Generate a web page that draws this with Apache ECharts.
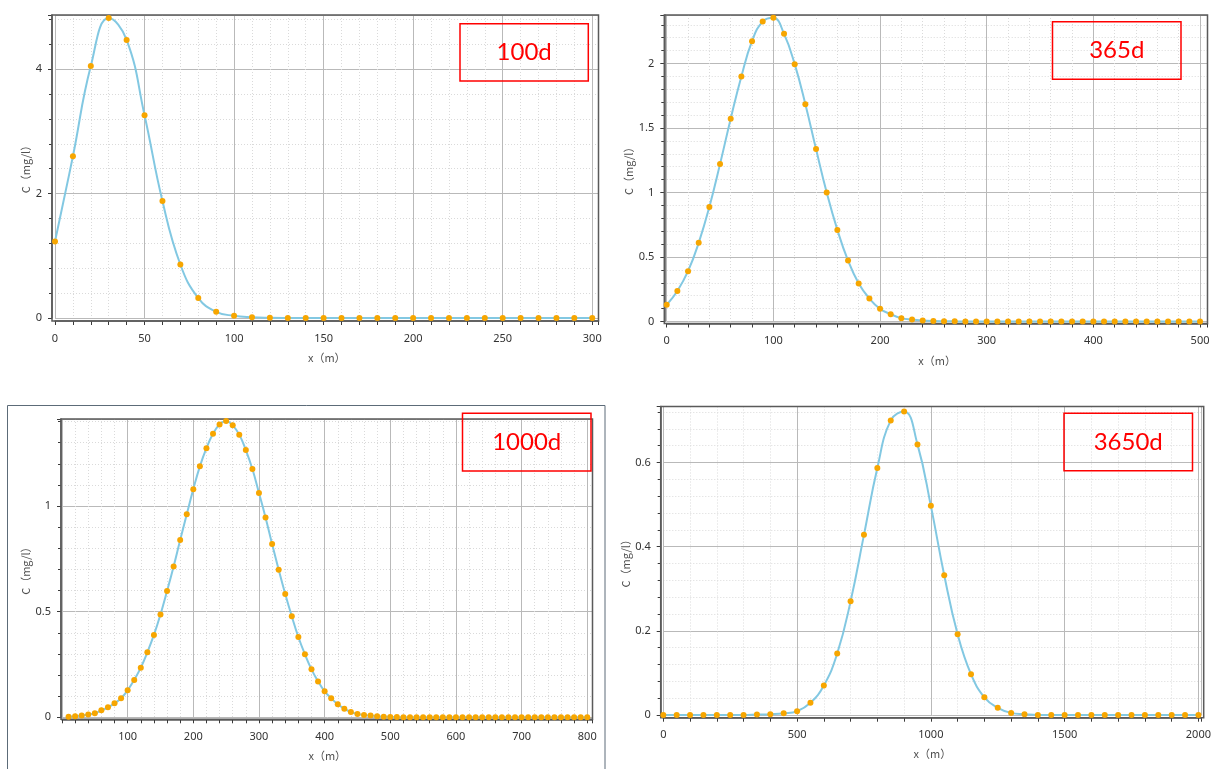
<!DOCTYPE html>
<html>
<head>
<meta charset="utf-8">
<script src="https://cdn.jsdelivr.net/npm/echarts@6/dist/echarts.min.js"></script>
<style>html,body{margin:0;padding:0;background:#fff;}#c{width:1214px;height:769px;}</style>
</head>
<body>
<div id="c"></div>
<script>
// ---------- DATA ----------
const panelTitles = ['100d', '365d', '1000d', '3650d'];
const xAxisName = 'x（m）';
const yAxisName = 'C（mg/l）';

const x100d = [0,10,20,30,40,50,60,70,80,90,100,110,120,130,140,150,160,170,180,190,200,210,220,230,240,250,260,270,280,290,300];
const c100d = [1.23,2.60,4.05,4.82,4.47,3.26,1.88,0.86,0.32,0.10,0.035,0.012,0.004,0.001,0,0,0,0,0,0,0,0,0,0,0,0,0,0,0,0,0];

const x365d = [0,10,20,30,40,50,60,70,80,90,100,110,120,130,140,150,160,170,180,190,200,210,220,230,240,250,260,270,280,290,300,310,320,330,340,350,360,370,380,390,400,410,420,430,440,450,460,470,480,490,500];
const c365d = [0.13,0.237,0.39,0.61,0.888,1.22,1.572,1.90,2.173,2.325,2.354,2.23,1.995,1.685,1.337,1.0,0.71,0.472,0.294,0.178,0.098,0.057,0.026,0.015,0.008,0.004,0.002,0.001,0,0,0,0,0,0,0,0,0,0,0,0,0,0,0,0,0,0,0,0,0,0,0];

const x1000d = [10,20,30,40,50,60,70,80,90,100,110,120,130,140,150,160,170,180,190,200,210,220,230,240,250,260,270,280,290,300,310,320,330,340,350,360,370,380,390,400,410,420,430,440,450,460,470,480,490,500,510,520,530,540,550,560,570,580,590,600,610,620,630,640,650,660,670,680,690,700,710,720,730,740,750,760,770,780,790,800];
const c1000d = [0.003,0.005,0.008,0.013,0.019,0.033,0.047,0.066,0.09,0.128,0.177,0.235,0.308,0.39,0.487,0.598,0.714,0.839,0.961,1.08,1.188,1.274,1.342,1.386,1.402,1.382,1.338,1.265,1.175,1.062,0.946,0.82,0.699,0.584,0.478,0.38,0.298,0.227,0.17,0.123,0.09,0.062,0.041,0.025,0.016,0.011,0.008,0.005,0.003,0.002,0.001,0,0,0,0,0,0,0,0,0,0,0,0,0,0,0,0,0,0,0,0,0,0,0,0,0,0,0,0,0];

const x3650d = [0,50,100,150,200,250,300,350,400,450,500,550,600,650,700,750,800,850,900,950,1000,1050,1100,1150,1200,1250,1300,1350,1400,1450,1500,1550,1600,1650,1700,1750,1800,1850,1900,1950,2000];
const c3650d = [0,0,0,0,0,0,0,0.001,0.002,0.004,0.009,0.029,0.07,0.146,0.27,0.428,0.587,0.70,0.721,0.643,0.497,0.332,0.192,0.097,0.042,0.017,0.005,0.002,0,0,0,0,0,0,0,0,0,0,0,0,0];

// ---------- LAYOUT ----------
const W = 1214, H = 769;
const panels = [
  { title: panelTitles[0], xs: x100d, ys: c100d, xMax: 303.5, xInt: 50, yMax: 4.87, yInt: 2,
    L: 55, T: 15, R: 598.5, B: 318, xOff: 3, yOff: 3, xGap: 31, yGap: 20,
    box: [460, 23.7, 588.3, 81] },
  { title: panelTitles[1], xs: x365d, ys: c365d, xMax: 507, xInt: 100, yMax: 2.376, yInt: 0.5,
    L: 666.7, T: 15, R: 1207.5, B: 321.5, xOff: 2, yOff: 2.4, xGap: 32, yGap: 30,
    box: [1052.5, 21.7, 1181, 79.3] },
  { title: panelTitles[2], xs: x1000d, ys: c1000d, xMax: 808, xInt: 100, yMax: 1.412, yInt: 0.5,
    L: 62, T: 419, R: 592.5, B: 717.3, xOff: 2, yOff: 1, xGap: 31, yGap: 26,
    box: [462.5, 413.3, 591, 471], hideMin: true },
  { title: panelTitles[3], xs: x3650d, ys: c3650d, xMax: 2011, xInt: 500, yMax: 0.733, yInt: 0.2,
    L: 663.3, T: 406.5, R: 1203.7, B: 715, xOff: 2.7, yOff: 2.6, xGap: 31, yGap: 29,
    box: [1064, 413.3, 1192.5, 470.7] }
];

const FONT = 'Noto Sans';
const axisColor = '#3a3a3a';
const borderColor = '#5a5a5a';

function fmt(interval, hideMin) {
  return function (v) {
    const r = v / interval;
    if (Math.abs(r - Math.round(r)) > 1e-6) return '';
    if (hideMin && v === 0) return '';
    return String(+v.toFixed(6));
  };
}

const grids = [], xAxes = [], yAxes = [], series = [], graphics = [];

// frame around lower-left picture
graphics.push({ type: 'rect', silent: true, z: 1,
  shape: { x: 7.5, y: 405.5, width: 597.5, height: 400 },
  style: { fill: null, stroke: '#5c6b78', lineWidth: 1 } });

panels.forEach((p, i) => {
  grids.push({ left: p.L, top: p.T, right: W - p.R, bottom: H - p.B, containLabel: false, show: false });
  xAxes.push({
    type: 'value', gridIndex: i, min: 0, max: p.xMax, interval: p.xInt,
    offset: p.xOff,
    name: xAxisName, nameLocation: 'middle', nameGap: p.xGap,
    nameTextStyle: { fontFamily: 'Noto Sans CJK SC', fontSize: 11, color: '#505050' },
    axisLine: { show: true, onZero: false, lineStyle: { color: borderColor, width: 1.5 } },
    axisTick: { show: true, length: 4, lineStyle: { color: axisColor } },
    minorTick: { show: true, splitNumber: 5, length: 4, lineStyle: { color: axisColor } },
    axisLabel: { fontFamily: FONT, fontSize: 11, color: '#333', margin: 12, formatter: fmt(p.xInt, p.hideMin) },
    splitLine: { show: true, lineStyle: { color: '#b9b9b9', width: 1 } },
    minorSplitLine: { show: true, lineStyle: { color: '#dadada', width: 1, type: [1, 2] } }
  });
  yAxes.push({
    type: 'value', gridIndex: i, min: 0, max: p.yMax, interval: p.yInt,
    offset: p.yOff,
    name: yAxisName, nameLocation: 'middle', nameGap: p.yGap,
    nameTextStyle: { fontFamily: 'Noto Sans CJK SC', fontSize: 11, color: '#505050' },
    axisLine: { show: true, onZero: false, lineStyle: { color: borderColor, width: 1.5 } },
    axisTick: { show: true, length: 4, lineStyle: { color: axisColor } },
    minorTick: { show: true, splitNumber: 5, length: 3, lineStyle: { color: axisColor } },
    axisLabel: { fontFamily: FONT, fontSize: 11, color: '#333', margin: 10, formatter: fmt(p.yInt, false) },
    splitLine: { show: true, lineStyle: { color: '#b9b9b9', width: 1 } },
    minorSplitLine: { show: true, lineStyle: { color: '#dadada', width: 1, type: [1, 2] } }
  });
  series.push({
    type: 'line', xAxisIndex: i, yAxisIndex: i, clip: false,
    data: p.xs.map((x, k) => [x, p.ys[k]]),
    smooth: 0.45,
    symbol: 'circle', symbolSize: 6, showSymbol: true,
    lineStyle: { color: '#82c8e2', width: 2 },
    itemStyle: { color: '#f7a600' },
    emphasis: { disabled: true }, animation: false, z: 3
  });
  // plot border box
  const bx = p.L - p.yOff, by = p.T, bw = p.R - bx, bh = (p.B + p.xOff) - p.T;
  graphics.push({ type: 'rect', silent: true, z: 2,
    shape: { x: bx, y: by, width: bw, height: bh },
    style: { fill: null, stroke: borderColor, lineWidth: 1.5 } });
  // red label box
  const b = p.box;
  graphics.push({ type: 'rect', silent: true, z: 10,
    shape: { x: b[0], y: b[1], width: b[2] - b[0], height: b[3] - b[1] },
    style: { fill: null, stroke: '#ff0000', lineWidth: 1.5 } });
  graphics.push({ type: 'text', silent: true, z: 11,
    x: (b[0] + b[2]) / 2, y: (b[1] + b[3]) / 2,
    style: { text: p.title, fill: '#ff0000', font: '24px Lato', textAlign: 'center', textVerticalAlign: 'middle' } });
});

const chart = echarts.init(document.getElementById('c'), null, { renderer: 'canvas' });
chart.setOption({
  animation: false,
  backgroundColor: '#ffffff',
  grid: grids, xAxis: xAxes, yAxis: yAxes, series: series,
  graphic: { elements: graphics }
});
</script>
</body>
</html>
